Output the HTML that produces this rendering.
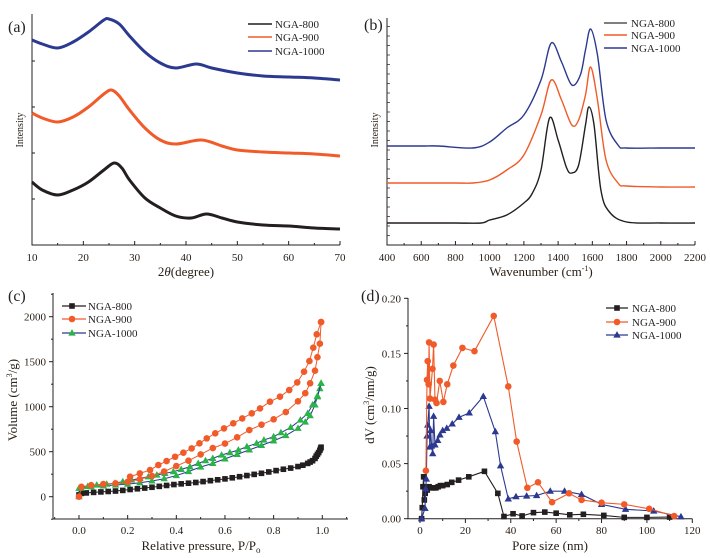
<!DOCTYPE html>
<html><head><meta charset="utf-8">
<style>
html,body{margin:0;padding:0;background:#fff;}
svg{display:block;font-family:"Liberation Serif",serif;}
</style></head>
<body>
<svg id="chart" width="710" height="558" viewBox="0 0 710 558" xmlns="http://www.w3.org/2000/svg"></svg>
<script>
// ---------- Panel (a) XRD ----------
const aX800=[10,12,15,18,21,24,26,27.5,29,32,35,38,41,44,47,50,55,60,65,70];
const aY800=[63,55,50,55,63,75,82,77,65,47,37,29,27,31,27,23,20,19,17,16];
const aX900=[10,12,15,18,21,24,25.5,27,29,32,35,38,43,47,50,55,60,65,70];
const aY900=[132,127,123,128,138,151,155,149,135,117,105,101,105,99,95,93,92,91,89];
const aX1000=[10,12,15,18,21,24,25,27,29,32,35,38,42,45,50,55,60,65,70];
const aY1000=[205,201,197,203,213,225,226,221,209,193,182,177,181,177,172,169,168,167,165];
const aTicks=[10,20,30,40,50,60,70];
// ---------- Panel (b) Raman ----------
const bX800=[400,600,800,950,1000,1100,1200,1250,1300,1350,1400,1450,1480,1520,1560,1580,1610,1650,1700,1800,2000,2200];
const bY800=[22,22,22,22,25,30,42,52,75,127,105,77,72,80,120,138,120,55,33,23,22,22];
const bX900=[400,600,800,900,1000,1100,1200,1300,1360,1420,1480,1520,1560,1590,1630,1680,1750,1800,2000,2200];
const bY900=[62,62,62,62,65,75,90,130,165,145,120,125,150,178,145,85,62,59,58,58];
const bX1000=[400,600,700,900,1000,1100,1200,1300,1360,1420,1480,1530,1560,1590,1630,1680,1750,1800,2000,2200];
const bY1000=[99,99,99,97,103,117,130,165,202,183,160,170,195,216,190,125,100,97,97,97];
const bTicks=[400,600,800,1000,1200,1400,1600,1800,2000,2200];
// ---------- Panel (c) isotherms ----------
const cX800=[0,0.01,0.03,0.06,0.09,0.12,0.15,0.18,0.21,0.24,0.27,0.3,0.33,0.36,0.39,0.42,0.45,0.48,0.51,0.54,0.57,0.6,0.63,0.66,0.69,0.72,0.75,0.78,0.81,0.84,0.87,0.9,0.92,0.94,0.95,0.96,0.97,0.975,0.98,0.985,0.99,0.993,0.995];
const cY800=[20,37,42,48,53,58,63,70,80,88,96,105,115,125,135,143,150,158,168,178,188,198,210,222,235,248,260,275,290,305,318,335,350,370,385,400,425,450,470,490,515,535,550];
const cX900a=[0,0.01,0.05,0.1,0.15,0.2,0.25,0.3,0.35,0.4,0.45,0.5,0.55,0.6,0.65,0.7,0.75,0.8,0.85,0.9,0.93,0.95,0.97,0.98,0.99,0.995];
const cY900a=[0,110,128,140,148,165,195,230,280,340,400,470,540,590,660,740,800,860,940,1060,1150,1260,1400,1550,1700,1940];
const cX900d=[0.995,0.977,0.963,0.947,0.925,0.897,0.864,0.826,0.785,0.744,0.71,0.671,0.634,0.596,0.56,0.525,0.495,0.463,0.429,0.395,0.36,0.326,0.292,0.25,0.21];
const cY900d=[1941,1804,1656,1507,1389,1270,1185,1111,1056,981,926,870,815,759,704,648,593,537,489,444,396,352,296,259,222];
const cX1000a=[0,0.01,0.05,0.1,0.15,0.2,0.25,0.3,0.35,0.4,0.45,0.5,0.55,0.6,0.65,0.7,0.75,0.8,0.85,0.9,0.93,0.95,0.97,0.98,0.99,0.995];
const cY1000a=[0,95,110,120,130,140,155,175,200,235,280,330,370,420,470,520,570,620,680,760,830,900,1020,1120,1200,1260];
const cX1000d=[0.995,0.98,0.96,0.94,0.91,0.87,0.83,0.8,0.76,0.73,0.69,0.655,0.62,0.586,0.55,0.52,0.49,0.456,0.42,0.388,0.353,0.32,0.285,0.25,0.216,0.18,0.148,0.114,0.073,0.036,0];
const cY1000d=[1260,1110,1020,926,852,770,711,667,630,593,556,519,490,463,426,400,370,333,304,278,259,241,222,204,185,167,150,140,130,115,93];
const cXTicks=[0,0.2,0.4,0.6,0.8,1.0];
const cYTicks=[0,500,1000,1500,2000];
// ---------- Panel (d) pore size ----------
const dX800=[0.7,1.0,1.3,1.6,1.9,2.3,2.8,3.2,4,5,6,7,8,9,10,12,14,17,21.5,28.4,34.3,37,41,45,50,55,60,66,72,81,90,100,110];
const dY800=[0,0.010,0.029,0.038,0.017,0.023,0.027,0.026,0.029,0.028,0.028,0.028,0.029,0.030,0.030,0.031,0.033,0.035,0.038,0.043,0.023,0.002,0.0045,0.0025,0.0055,0.006,0.005,0.0035,0.004,0.003,0.0012,0.0012,0.0015];
const dX900=[2.6,3.1,3.4,3.8,4.0,4.4,5.5,6.0,6.6,7.3,8.7,10.3,12,14.7,18.7,24,32.5,38.9,42.6,47.3,52,58.2,65.7,71.2,80,90,101,112];
const dY900=[0.0436,0.126,0.143,0.122,0.160,0.109,0.136,0.158,0.108,0.105,0.125,0.106,0.122,0.139,0.155,0.152,0.184,0.120,0.070,0.028,0.033,0.015,0.023,0.017,0.0145,0.013,0.009,0.0024];
const dX1000=[0.7,2.2,2.5,2.8,3.1,3.4,4.0,4.3,4.7,5.1,5.6,6.0,6.6,7.8,8.8,10,11.8,14.2,17.2,21.7,27.9,33.2,35.5,38.9,42.3,47,51.4,57.4,63.7,71.2,80,90.6,103,115];
const dY1000=[0,0.0094,0.027,0.036,0.075,0.085,0.102,0.065,0.080,0.066,0.059,0.093,0.067,0.071,0.076,0.080,0.082,0.086,0.092,0.096,0.111,0.079,0.048,0.018,0.020,0.0206,0.021,0.025,0.025,0.022,0.013,0.0085,0.007,0.0018];
const dXTicks=[0,20,40,60,80,100,120];
const dYTicks=[0,0.05,0.10,0.15,0.20];

const NS="http://www.w3.org/2000/svg";
const svg=document.getElementById('chart');
const BLK="#231f20", ORG="#f15a29", BLU="#2b3990", GRN="#2bb34a", TXT="#2a2018";
function mk(tag,attrs,parent){const e=document.createElementNS(NS,tag);for(const k in attrs)e.setAttribute(k,attrs[k]);(parent||svg).appendChild(e);return e;}
function lin(d0,d1,r0,r1){return v=>r0+(v-d0)*(r1-r0)/(d1-d0);}
function txt(x,y,s,size,anchor,parent,fill){const t=mk('text',{x:x,y:y,'font-size':size,'text-anchor':anchor||'start',fill:fill||TXT},parent);t.textContent=s;return t;}
function smooth(pts){let d="M"+pts[0][0]+","+pts[0][1];for(let i=0;i<pts.length-1;i++){const p0=pts[i-1]||pts[i],p1=pts[i],p2=pts[i+1],p3=pts[i+2]||p2;const c1x=p1[0]+(p2[0]-p0[0])/6,c1y=p1[1]+(p2[1]-p0[1])/6,c2x=p2[0]-(p3[0]-p1[0])/6,c2y=p2[1]-(p3[1]-p1[1])/6;d+=` C${c1x},${c1y} ${c2x},${c2y} ${p2[0]},${p2[1]}`;}return d;}
function poly(xs,ys,sx,sy){return xs.map((x,i)=>sx(x)+","+sy(ys[i])).join(" ");}

// ================= PANEL A =================
{
const g=mk('g',{});


const sx=lin(10,70,32,340), sy=lin(0,231,245,14);
const ax=mk('path',{d:"M32,14 V245 H340",stroke:BLK,'stroke-width':1,fill:'none'},g);


for(let v=10;v<=70;v+=5){const t=mk('line',{x1:sx(v),x2:sx(v),y1:245,y2:v%10===0?241:243,stroke:BLK},g);

}
for(let y=245;y>20;y-=46){const t=mk('line',{x1:32,x2:35,y1:y,y2:y,stroke:BLK},g);

}
aTicks.forEach(v=>{const t=txt(sx(v),261,String(v),11,'middle',g);

});
const xt=txt(186,276,"",13,'middle',g);xt.innerHTML='2<tspan font-style="italic">θ</tspan>(degree)';


const yt=txt(0,0,"Intensity",10,'middle',g);yt.setAttribute('transform','translate(23,130) rotate(-90)');


const pl=txt(8,32,"(a)",16,'start',g,BLK);


[[aX800,aY800,BLK,'xrd-line-nga-800'],[aX900,aY900,ORG,'xrd-line-nga-900'],[aX1000,aY1000,BLU,'xrd-line-nga-1000']].forEach(s=>{
const p=mk('path',{d:smooth(s[0].map((x,i)=>[sx(x),sy(s[1][i])])),stroke:s[2],'stroke-width':3,fill:'none'},g);

});
[["NGA-800",BLK,24],["NGA-900",ORG,37],["NGA-1000",BLU,51]].forEach(l=>{
const lg=mk('g',{},g);


mk('line',{x1:248,x2:272,y1:l[2],y2:l[2],stroke:l[1],'stroke-width':1.5},lg);
txt(275,l[2]+4,l[0],11,'start',lg,BLK);});
}
// ================= PANEL B =================
{
const g=mk('g',{});


const sx=lin(400,2200,387,695), sy=lin(0,227,245,18);
const ax=mk('path',{d:"M387,18 V245 H695",stroke:BLK,'stroke-width':1,fill:'none'},g);


for(let v=400;v<=2200;v+=100){const t=mk('line',{x1:sx(v),x2:sx(v),y1:245,y2:v%200===0?241:243,stroke:BLK},g);

}
for(let y=245;y>20;y-=9.5){const t=mk('line',{x1:387,x2:390,y1:y,y2:y,stroke:BLK,'stroke-width':0.7},g);

}
bTicks.forEach(v=>{const t=txt(sx(v),261,String(v),11,'middle',g);

});
const xt=txt(541,276,"",13,'middle',g);xt.innerHTML='Wavenumber (cm<tspan dy="-5" font-size="8">-1</tspan><tspan dy="5">)</tspan>';


const yt=txt(0,0,"Intensity",10,'middle',g);yt.setAttribute('transform','translate(378,130) rotate(-90)');


const pl=txt(364,30,"(b)",16,'start',g,BLK);


[[bX800,bY800,BLK,'raman-line-nga-800'],[bX900,bY900,ORG,'raman-line-nga-900'],[bX1000,bY1000,BLU,'raman-line-nga-1000']].forEach(s=>{
const p=mk('path',{d:smooth(s[0].map((x,i)=>[sx(x),sy(s[1][i])])),stroke:s[2],'stroke-width':1.4,fill:'none'},g);

});
[["NGA-800","#555",23],["NGA-900",ORG,35],["NGA-1000",BLU,48]].forEach(l=>{
const lg=mk('g',{},g);


mk('line',{x1:604,x2:627,y1:l[2],y2:l[2],stroke:l[1],'stroke-width':1.5},lg);
txt(631,l[2]+4,l[0],11,'start',lg,BLK);});
}
// markers
function marker(kind,x,y,color,parent){
if(kind==='sq')return mk('rect',{x:x-2.8,y:y-2.8,width:5.6,height:5.6,fill:color},parent);
if(kind==='ci')return mk('circle',{cx:x,cy:y,r:3.3,fill:color},parent);
return mk('path',{d:`M${x},${y-3.9} L${x+3.7},${y+2.6} L${x-3.7},${y+2.6} Z`,fill:color},parent);}
// ================= PANEL C =================
{
const g=mk('g',{});


const sx=lin(0,1,79,322.3), sy=lin(0,2000,496.7,316.7);
const ax=mk('path',{d:"M53,293 V519 H348",stroke:BLK,'stroke-width':1,fill:'none'},g);


for(let i=-1;i<=11;i++){const v=i/10;const t=mk('line',{x1:sx(v),x2:sx(v),y1:519,y2:i%2===0?515:517,stroke:BLK},g);

}
for(let v=-250;v<=2250;v+=250){const t=mk('line',{x1:v%500===0?49:51,x2:53,y1:sy(v),y2:sy(v),stroke:BLK},g);

}
cXTicks.forEach(v=>{const t=txt(sx(v),534,v.toFixed(1),11,'middle',g);

});
cYTicks.forEach(v=>{const t=txt(46,sy(v)+4,String(v),11,'end',g);

});
const xt=txt(201,550,"",13,'middle',g);xt.innerHTML='Relative pressure, P/P<tspan dy="3" font-size="9">o</tspan>';


const yt=txt(0,0,"",13,'middle',g);yt.innerHTML='Volume (cm<tspan dy="-5" font-size="8">3</tspan><tspan dy="5">/g)</tspan>';yt.setAttribute('transform','translate(17,400) rotate(-90)');


const pl=txt(8,301,"(c)",16,'start',g,BLK);


const series=[
[cX800,cY800,BLK,BLK,'sq','isotherm-nga-800'],
[cX1000a,cY1000a,BLU,GRN,'tr','isotherm-nga-1000-adsorption'],
[cX1000d,cY1000d,BLU,GRN,'tr','isotherm-nga-1000-desorption'],
[cX900a,cY900a,ORG,ORG,'ci','isotherm-nga-900-adsorption'],
[cX900d,cY900d,ORG,ORG,'ci','isotherm-nga-900-desorption']];
series.forEach(s=>{
const sg=mk('g',{},g);


mk('polyline',{points:poly(s[0],s[1],sx,sy),stroke:s[2],'stroke-width':1,fill:'none'},sg);
s[0].forEach((x,i)=>{const m=marker(s[4],sx(x),sy(s[1][i]),s[3],sg);

});});
[["NGA-800",BLK,BLK,'sq',306],["NGA-900",ORG,ORG,'ci',319],["NGA-1000",BLU,GRN,'tr',333]].forEach(l=>{
const lg=mk('g',{},g);


mk('line',{x1:62,x2:86,y1:l[4],y2:l[4],stroke:l[1],'stroke-width':1.2},lg);
marker(l[3],72,l[4],l[2],lg);
txt(88,l[4]+4,l[0],11,'start',lg,BLK);});
}
// ================= PANEL D =================
{
const g=mk('g',{});


const sx=lin(0,120,420,692.3), sy=lin(0,0.2,518.7,298.3);
const ax=mk('path',{d:"M408,298 V518.7 H692.3",stroke:BLK,'stroke-width':1,fill:'none'},g);


for(let v=0;v<=120;v+=10){const t=mk('line',{x1:sx(v),x2:sx(v),y1:518.7,y2:v%20===0?523:521,stroke:BLK},g);

}
for(let v=0;v<=0.2001;v+=0.025){const t=mk('line',{x1:Math.round(v*1000)%50===0?404:406,x2:408,y1:sy(v),y2:sy(v),stroke:BLK},g);

}
dXTicks.forEach(v=>{const t=txt(sx(v),534,String(v),11,'middle',g);

});
dYTicks.forEach(v=>{const t=txt(401,sy(v)+4,v.toFixed(2),11,'end',g);

});
const xt=txt(550,550,"Pore size (nm)",13,'middle',g);


const yt=txt(0,0,"",13,'middle',g);yt.innerHTML='dV (cm<tspan dy="-5" font-size="8">3</tspan><tspan dy="5">/nm/g)</tspan>';yt.setAttribute('transform','translate(374,405) rotate(-90)');


const pl=txt(361,301,"(d)",16,'start',g,BLK);


[[dX800,dY800,BLK,BLK,'sq','pore-size-nga-800'],[dX1000,dY1000,BLU,BLU,'tr','pore-size-nga-1000'],[dX900,dY900,ORG,ORG,'ci','pore-size-nga-900']].forEach(s=>{
const sg=mk('g',{},g);


mk('polyline',{points:poly(s[0],s[1],sx,sy),stroke:s[2],'stroke-width':1.1,fill:'none'},sg);
s[0].forEach((x,i)=>{const m=marker(s[4],sx(x),sy(s[1][i]),s[3],sg);

});});
[["NGA-800",BLK,'sq',308],["NGA-900",ORG,'ci',322],["NGA-1000",BLU,'tr',335]].forEach(l=>{
const lg=mk('g',{},g);


mk('line',{x1:606,x2:628,y1:l[3],y2:l[3],stroke:l[1],'stroke-width':1.2},lg);
marker(l[2],617,l[3],l[1],lg);
txt(632,l[3]+4,l[0],11,'start',lg,BLK);});
}
</script>
</body></html>
